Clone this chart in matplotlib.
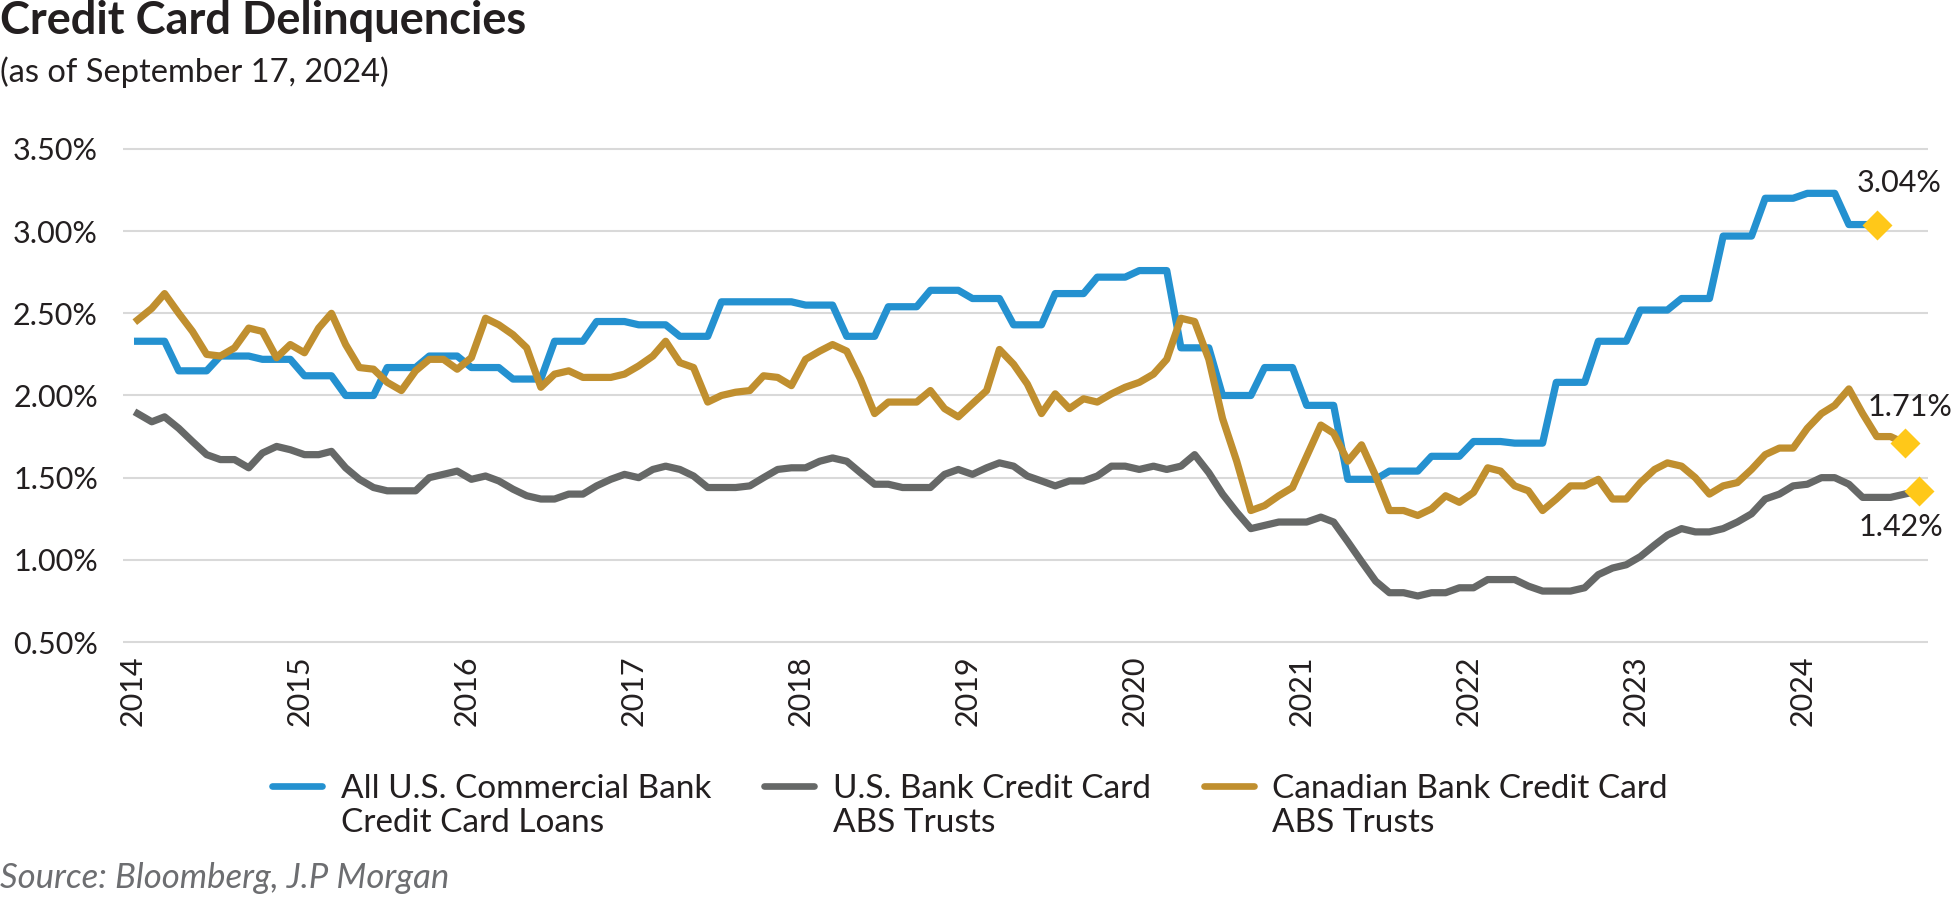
import numpy as np
import pandas as pd
import matplotlib
matplotlib.use('Agg')
import matplotlib.pyplot as plt
from matplotlib.lines import Line2D
from matplotlib.legend_handler import HandlerLine2D

# All U.S. commercial bank card loans: quarterly, Q1 2014 .. Q2 2024 (held for 3 months on the chart)
us_commercial_q = [2.33, 2.15, 2.24, 2.22, 2.12, 2.00, 2.17, 2.24, 2.17, 2.10,
                   2.33, 2.45, 2.43, 2.36, 2.57, 2.57, 2.55, 2.36, 2.54, 2.64,
                   2.59, 2.43, 2.62, 2.72, 2.76, 2.29, 2.00, 2.17, 1.94, 1.49,
                   1.54, 1.63, 1.72, 1.71, 2.08, 2.33, 2.52, 2.59, 2.97, 3.20,
                   3.23, 3.04]

# U.S. bank credit card ABS trusts: monthly, Jan 2014 .. Sep 2024
us_abs = [1.89, 1.84, 1.87, 1.80, 1.72, 1.64, 1.61, 1.61, 1.56, 1.65, 1.69, 1.67,
          1.64, 1.64, 1.66, 1.56, 1.49, 1.44, 1.42, 1.42, 1.42, 1.50, 1.52, 1.54,
          1.49, 1.51, 1.48, 1.43, 1.39, 1.37, 1.37, 1.40, 1.40, 1.45, 1.49, 1.52,
          1.50, 1.55, 1.57, 1.55, 1.51, 1.44, 1.44, 1.44, 1.45, 1.50, 1.55, 1.56,
          1.56, 1.60, 1.62, 1.60, 1.53, 1.46, 1.46, 1.44, 1.44, 1.44, 1.52, 1.55,
          1.52, 1.56, 1.59, 1.57, 1.51, 1.48, 1.45, 1.48, 1.48, 1.51, 1.57, 1.57,
          1.55, 1.57, 1.55, 1.57, 1.64, 1.53, 1.40, 1.29, 1.19, 1.21, 1.23, 1.23,
          1.23, 1.26, 1.23, 1.11, 0.99, 0.87, 0.80, 0.80, 0.78, 0.80, 0.80, 0.83,
          0.83, 0.88, 0.88, 0.88, 0.84, 0.81, 0.81, 0.81, 0.83, 0.91, 0.95, 0.97,
          1.02, 1.09, 1.15, 1.19, 1.17, 1.17, 1.19, 1.23, 1.28, 1.37, 1.40, 1.45,
          1.46, 1.50, 1.50, 1.46, 1.38, 1.38, 1.38, 1.40, 1.42]

# Canadian bank credit card ABS trusts: monthly, Jan 2014 .. Aug 2024
canada_abs = [2.46, 2.53, 2.62, 2.50, 2.39, 2.25, 2.24, 2.29, 2.41, 2.39, 2.23, 2.31,
              2.26, 2.41, 2.50, 2.31, 2.17, 2.16, 2.08, 2.03, 2.15, 2.22, 2.22, 2.16,
              2.23, 2.47, 2.43, 2.37, 2.29, 2.05, 2.13, 2.15, 2.11, 2.11, 2.11, 2.13,
              2.18, 2.24, 2.33, 2.20, 2.17, 1.96, 2.00, 2.02, 2.03, 2.12, 2.11, 2.06,
              2.22, 2.27, 2.31, 2.27, 2.10, 1.89, 1.96, 1.96, 1.96, 2.03, 1.92, 1.87,
              1.95, 2.03, 2.28, 2.19, 2.07, 1.89, 2.01, 1.92, 1.98, 1.96, 2.01, 2.05,
              2.08, 2.13, 2.22, 2.47, 2.45, 2.22, 1.86, 1.60, 1.30, 1.33, 1.39, 1.44,
              1.63, 1.82, 1.77, 1.60, 1.70, 1.51, 1.30, 1.30, 1.27, 1.31, 1.39, 1.35,
              1.41, 1.56, 1.54, 1.45, 1.42, 1.30, 1.37, 1.45, 1.45, 1.49, 1.37, 1.37,
              1.47, 1.55, 1.59, 1.57, 1.50, 1.40, 1.45, 1.47, 1.55, 1.64, 1.68, 1.68,
              1.80, 1.89, 1.94, 2.04, 1.89, 1.75, 1.75, 1.71]

series_names = ['All U.S. Commercial Bank\nCredit Card Loans',
                'U.S. Bank Credit Card\nABS Trusts',
                'Canadian Bank Credit Card\nABS Trusts']
series_colors = ['#2491d0', '#666867', '#c08f2f']
years = list(range(2014, 2025))
y_ticks = [0.5, 1.0, 1.5, 2.0, 2.5, 3.0, 3.5]

plt.rcParams['font.family'] = ['Lato', 'DejaVu Sans']
TEXT = '#231f20'
H = 897  # figure height in px, used for placing the free texts


class RaisedLine(HandlerLine2D):
    # lift the legend line to sit beside the first text line
    def create_artists(self, legend, orig_handle, xdescent, ydescent, width, height, fontsize, trans):
        arts = super().create_artists(legend, orig_handle, xdescent, ydescent, width, height,
                                      fontsize, trans)
        for a in arts:
            a.set_ydata(np.asarray(a.get_ydata()) + 0.62 * fontsize)
        return arts


def monthly(n):
    # observations sit a little into each month
    return pd.date_range('2014-01-01', periods=n, freq='MS') + pd.Timedelta(days=10)


us_commercial = np.repeat(us_commercial_q, 3)
dates_blue = monthly(len(us_commercial))
dates_gray = monthly(len(us_abs))
dates_gold = monthly(len(canada_abs))

fig = plt.figure(figsize=(19.52, 8.97), dpi=100)
ax = fig.add_axes([0.063, 0.2806, 0.9247, 0.557])

series = [(dates_blue, us_commercial), (dates_gray, us_abs), (dates_gold, canada_abs)]
for (d, v), col in zip(series, series_colors):
    ax.plot(d, v, color=col, lw=5.2, solid_joinstyle='round', zorder=3)

# end point markers and labels (blue, gray, gold)
offsets = [(16, 30), (-13, -26), (4, 26)]
for (d, v), off in zip(series, offsets):
    ax.plot(d[-1], v[-1], marker='D', ms=15, color='#ffc819', mec='none', zorder=4, clip_on=False)
    ax.annotate(f'{v[-1]:.2f}%', (d[-1], v[-1]), xytext=off, textcoords='offset points',
                ha='center', va='center', fontsize=22, color=TEXT, annotation_clip=False)

ax.set_ylim(0.48, 3.52)
ax.set_xlim(pd.Timestamp('2013-12-10'), pd.Timestamp('2024-10-01'))
ax.set_yticks(y_ticks)
ax.set_yticklabels([f'{t:.2f}%' for t in y_ticks])
ax.set_xticks([pd.Timestamp(f'{y}-01-01') for y in years])
ax.set_xticklabels([str(y) for y in years], rotation=90, va='top', ha='center')
ax.tick_params(axis='both', length=0, labelsize=22, labelcolor=TEXT)
ax.tick_params(axis='y', pad=18)
ax.tick_params(axis='x', pad=7)
ax.grid(axis='y', color='#d9d9d9', lw=1.5)
ax.set_axisbelow(True)
for s in ax.spines.values():
    s.set_visible(False)

fig.text(0.0, 1 - 34 / H, 'Credit Card Delinquencies', fontsize=32.5, fontweight='bold',
         color=TEXT, va='baseline', ha='left')
fig.text(0.0, 1 - 82 / H, '(as of September 17, 2024)', fontsize=23.5, color=TEXT,
         va='baseline', ha='left')
fig.text(0.0, 1 - 888 / H, 'Source: Bloomberg, J.P Morgan', fontsize=25, style='italic',
         color='#6d6e71', va='baseline', ha='left')

handles = [Line2D([], [], color=c, lw=4.8, solid_capstyle='round') for c in series_colors]
fig.legend(handles, series_names, loc='center', bbox_to_anchor=(0.497, 1 - 806 / H), ncol=3,
           frameon=False, fontsize=24, handlelength=1.5, handletextpad=0.55,
           columnspacing=1.6, labelcolor=TEXT, labelspacing=0.3,
           handler_map={Line2D: RaisedLine()})

fig.savefig('out.png', dpi=100)
